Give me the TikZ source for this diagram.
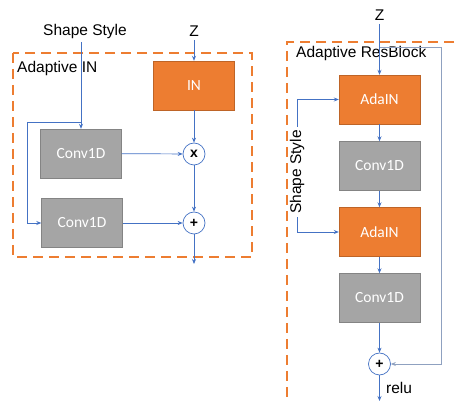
\documentclass[tikz,border=0pt]{standalone}
\usepackage{fontspec}
\setmainfont{Liberation Sans}
\newfontfamily\boxfont{Carlito}
\usetikzlibrary{arrows.meta}
\definecolor{ppOrange}{HTML}{ED7D31}
\definecolor{ppGray}{HTML}{A5A5A5}
\definecolor{ppBlue}{HTML}{4472C4}
\tikzset{
  blk/.style={draw=#1!80!black, fill=#1, minimum width=81pt, minimum height=49pt,
    inner sep=0pt, text=white, font=\boxfont\fontsize{15.5}{18}\selectfont},
  op/.style={circle, draw=ppBlue, fill=white, minimum size=22pt, inner sep=0pt,
    line width=0.7pt, font=\bfseries\fontsize{14}{16}\selectfont},
  lbl/.style={font=\fontsize{15.5}{18}\selectfont},
  grp/.style={draw=ppOrange, line width=2.8pt, dash pattern=on 10pt off 6pt},
  flow/.style={draw=ppBlue, line width=0.7pt, -{Stealth[length=5pt,width=4pt]}},
}
\begin{document}
\begin{tikzpicture}[x=1pt,y=-1pt]
      \useasboundingbox (0,0) rectangle (456,406);
      \clip (0,0) rectangle (456,406);
      \draw[grp] (13,53) rectangle (252,257);
      \draw[grp] (470,42) -- (287,42) -- (287,400);
      \node[lbl] (ss1) at (85,31) {Shape Style};
      \node[lbl] (z1) at (194,31) {Z};
      \node[lbl, anchor=west, inner sep=0pt] (t1) at (17,68) {Adaptive IN};
      \node[blk=ppOrange] (in) at (194,85.5) {IN};
      \node[blk=ppGray] (c1) at (81,153.5) {Conv1D};
      \node[blk=ppGray] (c2) at (82,223) {Conv1D};
      \node[op] (mul) at (194,154) {x};
      \node[op] (add1) at (194,223) {+};
      \coordinate (split) at (81,122);
      \coordinate (turn) at (27,122);
      \coordinate (out1) at (194,264);
      \node[lbl] (z2) at (379.5,15) {Z};
      \node[lbl, anchor=west, inner sep=0pt] (t2) at (296,53) {Adaptive ResBlock};
      \node[blk=ppOrange] (a1) at (379.5,99.5) {AdaIN};
      \node[blk=ppGray] (c3) at (379.5,166) {Conv1D};
      \node[blk=ppOrange] (a2) at (379.5,232) {AdaIN};
      \node[blk=ppGray] (c4) at (379.5,298) {Conv1D};
      \node[op] (add2) at (379.5,364) {+};
      \node[lbl, rotate=90] (ss2) at (297,172) {Shape Style};
      \node[lbl, anchor=west, inner sep=0pt] (relu) at (386,388) {relu};
      \coordinate (skip) at (379.5,47);
      \coordinate (skipR) at (441,47);
      \coordinate (out2) at (379.5,401);
      \begin{scope}[flow]
        \draw (c1.north |- ss1.south) -- (c1.north);
        \draw[-] (split) -- (turn);
        \draw (turn) |- (c2.west);
        \draw (z1) -- (in);
        \draw (in) -- (mul);
        \draw (c1) -- (mul);
        \draw (mul) -- (add1);
        \draw (c2) -- (add1);
        \draw (add1) -- (out1);
        \draw (z2) -- (a1);
        \draw (ss2.east) |- (a1.west);
        \draw (ss2.west) |- (a2.west);
        \draw (a1) -- (c3);
        \draw (c3) -- (a2);
        \draw (a2) -- (c4);
        \draw (c4) -- (add2);
        \draw (add2) -- (out2);
        \draw[draw=ppBlue!55!gray!70] (skip) -- (skipR) |- (add2.east);
      \end{scope}
    \end{tikzpicture}
\end{document}
